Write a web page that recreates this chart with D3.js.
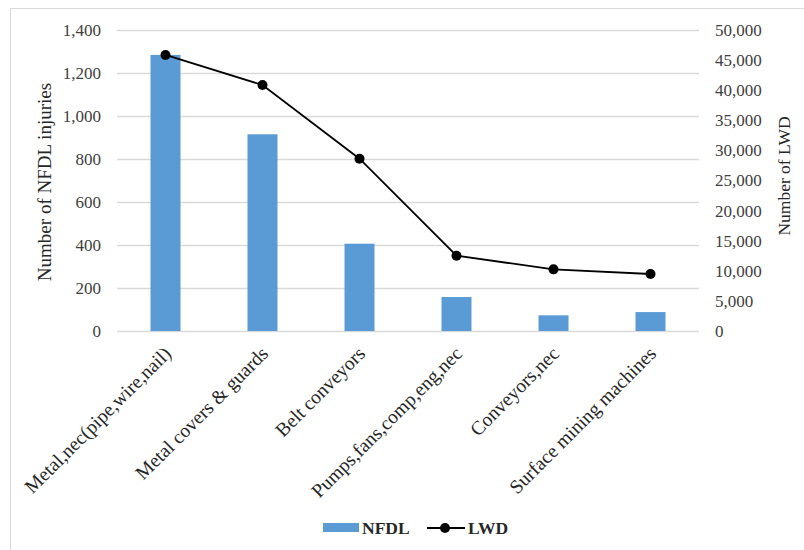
<!DOCTYPE html>
<html>
<head>
<meta charset="utf-8">
<script src="https://cdn.jsdelivr.net/npm/d3@7"></script>
<style>
  html, body { margin: 0; padding: 0; background: #fff; }
  svg { display: block; }
  svg text { font-family: "Liberation Serif", "Times New Roman", serif; }
</style>
</head>
<body>
<svg id="chart" width="804" height="550"></svg>
<script>
// Equipment categories
const categories = [
  "Metal,nec(pipe,wire,nail)",
  "Metal covers & guards",
  "Belt conveyors",
  "Pumps,fans,comp,eng,nec",
  "Conveyors,nec",
  "Surface mining machines"
];
// Non-fatal days-lost injuries (left axis)
const nfdl = [1284, 915, 406, 158, 73, 88];
// Lost work days (right axis)
const lwd = [45850, 40870, 28620, 12510, 10240, 9470];
const leftTicks = [0, 200, 400, 600, 800, 1000, 1200, 1400];
const rightTicks = [0, 5000, 10000, 15000, 20000, 25000, 30000, 35000, 40000, 45000, 50000];

const svg = d3.select("#chart");
const m = { left: 117, right: 699, top: 30, bottom: 331 };
const fmt = d3.format(",");

// Chart frame
svg.append("rect")
  .attr("x", 10.5).attr("y", 8.5)
  .attr("width", 820).attr("height", 560)
  .attr("fill", "none").attr("stroke", "#d9d9d9").attr("stroke-width", 1);

const x = d3.scaleBand().domain(categories).range([m.left, m.right]).paddingInner(0).paddingOuter(0);
const yL = d3.scaleLinear().domain([0, 1400]).range([m.bottom, m.top]);
const yR = d3.scaleLinear().domain([0, 50000]).range([m.bottom, m.top]);

// Horizontal gridlines
svg.append("g").selectAll("line").data(leftTicks).join("line")
  .attr("x1", m.left).attr("x2", m.right)
  .attr("y1", d => Math.round(yL(d)) + 0.5).attr("y2", d => Math.round(yL(d)) + 0.5)
  .attr("stroke", "#d9d9d9").attr("stroke-width", 1.3);

// Left axis
const axL = svg.append("g").attr("transform", `translate(${m.left - 16},0)`)
  .call(d3.axisLeft(yL).tickValues(leftTicks).tickFormat(fmt).tickSize(0).tickPadding(0));
axL.attr("font-family", null).attr("font-size", null);
axL.select(".domain").remove();
axL.selectAll("text").attr("font-size", 17).attr("fill", "#404040");

// Right axis
const axR = svg.append("g").attr("transform", `translate(${m.right + 16},0)`)
  .call(d3.axisRight(yR).tickValues(rightTicks).tickFormat(fmt).tickSize(0).tickPadding(0));
axR.attr("font-family", null).attr("font-size", null);
axR.select(".domain").remove();
axR.selectAll("text").attr("font-size", 17).attr("fill", "#404040");

// Bars
const barW = 30;
svg.append("g").selectAll("rect").data(nfdl).join("rect")
  .attr("x", (d, i) => x(categories[i]) + x.bandwidth() / 2 - barW / 2)
  .attr("y", d => yL(d))
  .attr("width", barW)
  .attr("height", d => yL(0) - yL(d))
  .attr("fill", "#5b9bd5");

// LWD line
const line = d3.line()
  .x((d, i) => x(categories[i]) + x.bandwidth() / 2)
  .y(d => yR(d));
svg.append("path").datum(lwd)
  .attr("d", line).attr("fill", "none")
  .attr("stroke", "#000").attr("stroke-width", 1.8);
svg.append("g").selectAll("circle").data(lwd).join("circle")
  .attr("cx", (d, i) => x(categories[i]) + x.bandwidth() / 2)
  .attr("cy", d => yR(d))
  .attr("r", 5).attr("fill", "#000");

// Category labels
svg.append("g").selectAll("text").data(categories).join("text")
  .attr("transform", d => `translate(${x(d) + x.bandwidth() / 2 + 2},${m.bottom + 19}) rotate(-45)`)
  .attr("text-anchor", "end")
  .attr("dy", "0.35em")
  .attr("font-size", 19.5)
  .attr("fill", "#262626")
  .text(d => d);

// Axis titles
svg.append("text")
  .attr("transform", `translate(51,182) rotate(-90)`)
  .attr("text-anchor", "middle")
  .attr("font-size", 19).attr("fill", "#262626")
  .text("Number of NFDL injuries");
svg.append("text")
  .attr("transform", `translate(790,176) rotate(-90)`)
  .attr("text-anchor", "middle")
  .attr("font-size", 17.5).attr("fill", "#262626")
  .text("Number of LWD");

// Legend
const lg = svg.append("g").attr("font-size", 17.5).attr("font-weight", "bold").attr("fill", "#262626");
lg.append("rect").attr("x", 323).attr("y", 523).attr("width", 36).attr("height", 9).attr("fill", "#5b9bd5");
lg.append("text").attr("x", 362).attr("y", 534).text("NFDL");
lg.append("line").attr("x1", 427).attr("x2", 465).attr("y1", 528).attr("y2", 528)
  .attr("stroke", "#000").attr("stroke-width", 1.8);
lg.append("circle").attr("cx", 445).attr("cy", 528).attr("r", 5).attr("fill", "#000");
lg.append("text").attr("x", 468).attr("y", 534).text("LWD");
</script>
</body>
</html>
